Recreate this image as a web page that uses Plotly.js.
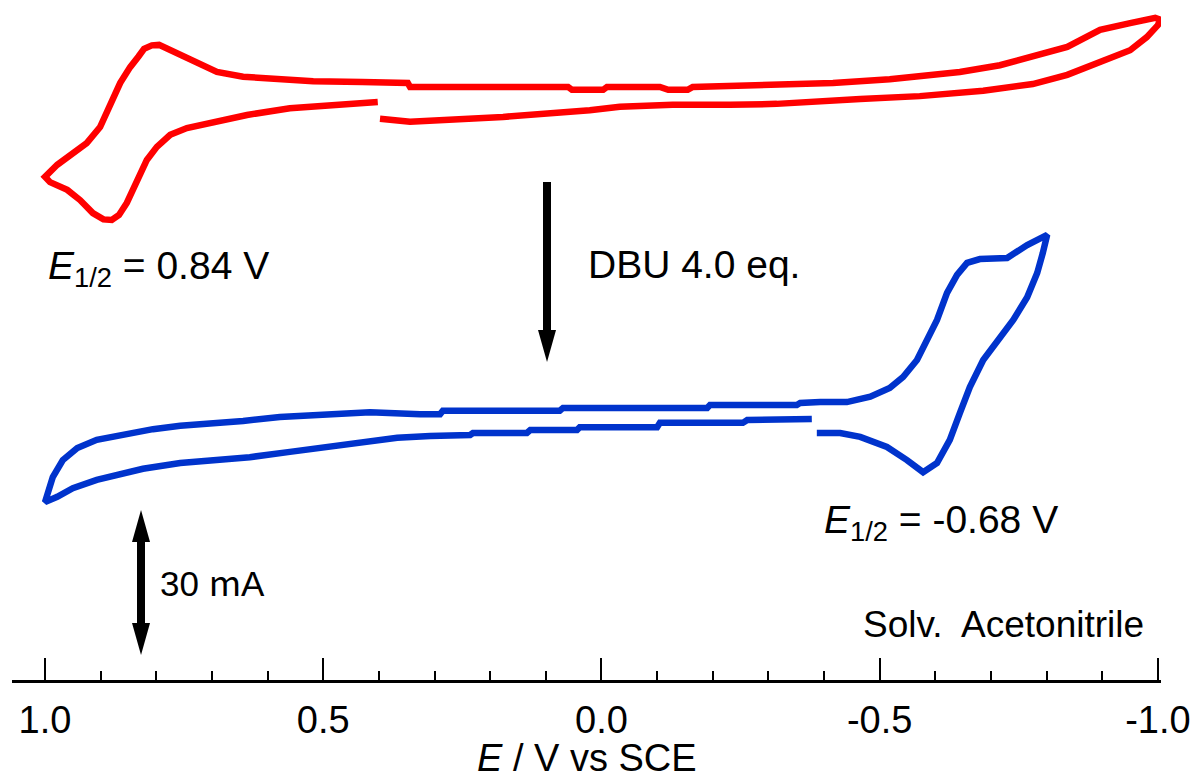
<!DOCTYPE html>
<html>
<head>
<meta charset="utf-8">
<script src="https://cdn.plot.ly/plotly-3.0.1.min.js"></script>
<style>html,body{margin:0;padding:0;background:#fff;}#chart{width:1196px;height:782px;}</style>
</head>
<body>
<div id="chart"></div>
<script>
// Potential (V vs SCE) and current (µA, arbitrary offset)
const E_red = [0.398,0.344,0.177,0.075,0.021,-0.033,-0.128,-0.231,-0.315,-0.465,-0.572,-0.686,-0.775,-0.837,-0.896,-0.950,-0.980,-1.000,-1.004,
  -0.995,-0.950,-0.896,-0.837,-0.775,-0.716,-0.644,-0.572,-0.518,-0.416,-0.231,-0.164,-0.155,-0.120,-0.105,-0.010,-0.003,0.053,0.060,0.344,0.348,0.429,0.430,0.518,0.596,0.644,0.691,0.727,0.763,0.782,0.795,0.808,0.822,0.832,0.847,0.865,0.883,0.901,0.925,0.955,0.978,1.000,
  0.991,0.960,0.937,0.914,0.895,0.880,0.867,0.853,0.835,0.817,0.799,0.775,0.745,0.698,0.637,0.560,0.488,0.429,0.402];
const I_red = [116.1,115.5,116.5,117.3,117.9,118.6,119.0,119.0,119.2,120.2,120.8,121.9,123.3,125.2,127.7,130.3,133.0,135.5,136.6,
  137.0,135.9,134.5,131.0,128.9,127.2,125.8,124.8,124.3,123.5,122.9,122.7,122.1,122.1,122.7,122.7,122.1,122.1,122.7,122.7,123.5,123.5,123.7,123.9,124.3,124.8,125.8,127.7,129.7,130.8,131.4,131.3,130.6,129.0,126.8,123.5,118.6,114.4,111.1,108.6,106.6,104.1,
  103.0,101.4,99.3,96.6,95.3,95.2,96.2,98.7,102.8,107.6,110.3,112.8,114.2,115.5,116.9,118.3,119.0,119.6,119.6];

const E_blue = [-0.387,-0.429,-0.465,-0.513,-0.549,-0.578,-0.603,-0.626,-0.644,-0.662,-0.686,-0.711,-0.740,-0.765,-0.783,-0.793,-0.801,
  -0.765,-0.729,-0.680,-0.657,-0.639,-0.621,-0.603,-0.585,-0.567,-0.542,-0.518,-0.483,-0.441,-0.393,-0.357,-0.351,-0.195,-0.190,0.069,0.075,0.285,0.290,0.326,0.416,0.506,0.578,0.644,0.703,0.757,0.806,0.853,0.907,0.942,0.968,0.986,0.996,1.000,
  0.978,0.950,0.907,0.865,0.824,0.757,0.691,0.632,0.560,0.500,0.429,0.367,0.308,0.236,0.231,0.134,0.128,0.044,0.039,-0.100,-0.105,-0.254,-0.262,-0.378];
const I_blue = [51.1,51.1,50.3,48.2,45.5,43.0,44.9,49.7,55.2,60.6,66.2,70.3,74.5,79.2,84.2,88.3,92.1,
  90.0,87.3,87.1,86.3,83.8,80.1,74.5,70.3,66.2,62.7,60.4,58.6,57.5,57.5,57.3,56.9,56.9,56.3,56.3,55.7,55.7,55.0,55.0,55.4,54.8,54.4,53.6,53.2,52.6,51.9,50.9,49.7,48.0,45.5,42.0,37.9,36.8,
  37.9,39.7,41.4,42.4,43.7,44.9,45.5,46.1,47.2,48.2,49.2,50.1,50.5,50.7,51.1,51.1,51.7,51.7,52.3,52.3,53.2,53.2,53.8,54.0];

const tickVals = [1.0, 0.5, 0.0, -0.5, -1.0];
const tickText = ["1.0", "0.5", "0.0", "-0.5", "-1.0"];
const minorVals = [0.9,0.8,0.7,0.6,0.4,0.3,0.2,0.1,-0.1,-0.2,-0.3,-0.4,-0.6,-0.7,-0.8,-0.9];

const FONT = "Liberation Sans, Arial, Helvetica, sans-serif";
const L = 12, R = 1161, B = 680;
const PX = p => (p - L) / (R - L);
const PY = p => (B - p) / B;

const traces = [
  {x: E_red, y: I_red, mode: 'lines', line: {color: '#ff0000', width: 6.5}, hoverinfo: 'skip'},
  {x: E_blue, y: I_blue, mode: 'lines', line: {color: '#0033cc', width: 6.5}, hoverinfo: 'skip'}
];

function rect(x0, y0, x1, y1) {
  return {type: 'rect', xref: 'paper', yref: 'paper', x0: PX(x0), x1: PX(x1), y0: PY(y0), y1: PY(y1),
    fillcolor: '#000', line: {width: 0}};
}
function tri(a, b, c) {
  return {type: 'path', xref: 'paper', yref: 'paper',
    path: `M ${PX(a[0])},${PY(a[1])} L ${PX(b[0])},${PY(b[1])} L ${PX(c[0])},${PY(c[1])} Z`,
    fillcolor: '#000', line: {width: 0}};
}

const shapes = [
  rect(543, 182, 551, 332), tri([538, 330], [556, 330], [547, 362]),
  rect(137, 540, 145, 625), tri([132, 542], [150, 542], [141, 510]), tri([132, 623], [150, 623], [141, 655])
];

function ann(text, x, y, size) {
  return {text: text, xref: 'paper', yref: 'paper', x: PX(x), y: PY(y), xanchor: 'left', yanchor: 'middle',
    showarrow: false, font: {family: FONT, size: size, color: '#000'}};
}

const annotations = [
  ann('<i>E</i><sub>1/2</sub> = 0.84 V', 46, 268, 39),
  ann('DBU 4.0 eq.', 586, 265, 39),
  ann('<i>E</i><sub>1/2</sub> = -0.68 V', 822, 522, 39),
  ann('30 <span style="font-family:Noto Sans CJK JP">m</span>A', 158, 580, 35),
  ann('Solv.\u00a0 Acetonitrile', 861, 624, 37),
  {text: '<i>E</i> / V vs SCE', xref: 'paper', yref: 'paper', x: PX(587), y: PY(758), xanchor: 'center', yanchor: 'middle',
    showarrow: false, font: {family: FONT, size: 38, color: '#000'}}
];

const layout = {
  width: 1196, height: 782,
  margin: {l: L, r: 1196 - R, t: 0, b: 782 - B, pad: 0},
  paper_bgcolor: '#fff', plot_bgcolor: '#fff',
  showlegend: false,
  xaxis: {
    range: [1.0593, -1.0055], showgrid: false, zeroline: false,
    showline: true, linecolor: '#000', linewidth: 2.5,
    ticks: 'inside', ticklen: 22, tickwidth: 2, tickcolor: '#000',
    tickmode: 'array', tickvals: tickVals, ticktext: tickText,
    tickfont: {family: FONT, size: 38, color: '#000'},
    ticklabelstandoff: 5,
    minor: {tickmode: 'array', tickvals: minorVals, ticks: 'inside', ticklen: 9, tickwidth: 2, tickcolor: '#000', showgrid: false}
  },
  yaxis: {range: [0, 140.69], visible: false, fixedrange: true},
  shapes: shapes,
  annotations: annotations
};

Plotly.newPlot('chart', traces, layout, {staticPlot: true, displayModeBar: false});
</script>
</body>
</html>
